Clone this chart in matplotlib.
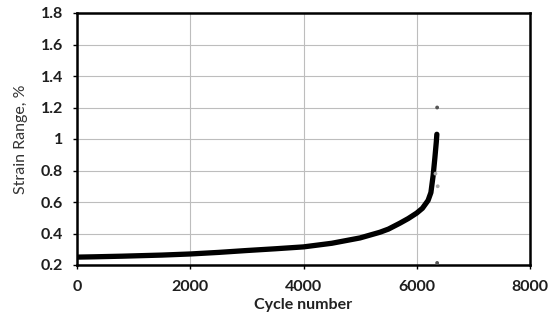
import matplotlib
matplotlib.use("Agg")
import matplotlib.pyplot as plt
from matplotlib.ticker import FuncFormatter

# strain range history of the fatigue test
cycles = [0, 300, 800, 1500, 2000, 2500, 3000, 3500, 4000, 4500, 5000,
          5350, 5500, 5700, 5850, 6000, 6100, 6200, 6250, 6290, 6320, 6345, 6355]
strain = [0.250, 0.252, 0.256, 0.263, 0.270, 0.280, 0.292, 0.303, 0.315,
          0.338, 0.372, 0.408, 0.428, 0.465, 0.495, 0.530, 0.560, 0.610,
          0.660, 0.770, 0.880, 0.980, 1.030]

# stray readings away from the main trace
stray_cycles = [6360, 6360, 6330, 6370]
stray_strain = [1.20, 0.213, 0.78, 0.70]

plt.rcParams["font.family"] = ["Lato", "DejaVu Sans"]

fig = plt.figure(figsize=(5.49, 3.25), dpi=100)
ax = fig.add_axes([77 / 549, 60 / 325, 453 / 549, 252 / 325])

ax.plot(cycles, strain, color="black", linewidth=3.8, solid_capstyle="round",
        solid_joinstyle="round", zorder=3)
ax.scatter(stray_cycles, stray_strain, s=3, color=["#555555", "#555555", "#aaaaaa", "#aaaaaa"],
           zorder=3)

ax.set_xlim(0, 8000)
ax.set_ylim(0.2, 1.8)
ax.set_xticks([0, 2000, 4000, 6000, 8000])
ax.set_yticks([0.2, 0.4, 0.6, 0.8, 1.0, 1.2, 1.4, 1.6, 1.8])
ax.yaxis.set_major_formatter(FuncFormatter(lambda v, p: f"{v:g}"))

ax.grid(True, color="#bdbdbd", linewidth=0.8)
ax.set_axisbelow(True)
for sp in ax.spines.values():
    sp.set_linewidth(1.8)
    sp.set_color("black")

ax.tick_params(direction="out", length=3, width=1, labelsize=11.5)
ax.tick_params(axis="x", pad=8)
ax.tick_params(axis="y", pad=7)
for lbl in ax.get_xticklabels() + ax.get_yticklabels():
    lbl.set_fontweight("bold")
    lbl.set_color("#1e1e1e")

ax.set_xlabel("Cycle number", fontsize=11.5, fontweight="bold", color="#222222", labelpad=3)
ax.set_ylabel("Strain Range, %", fontsize=11.5, color="#333333", labelpad=9)

fig.savefig("out.png", dpi=100)
